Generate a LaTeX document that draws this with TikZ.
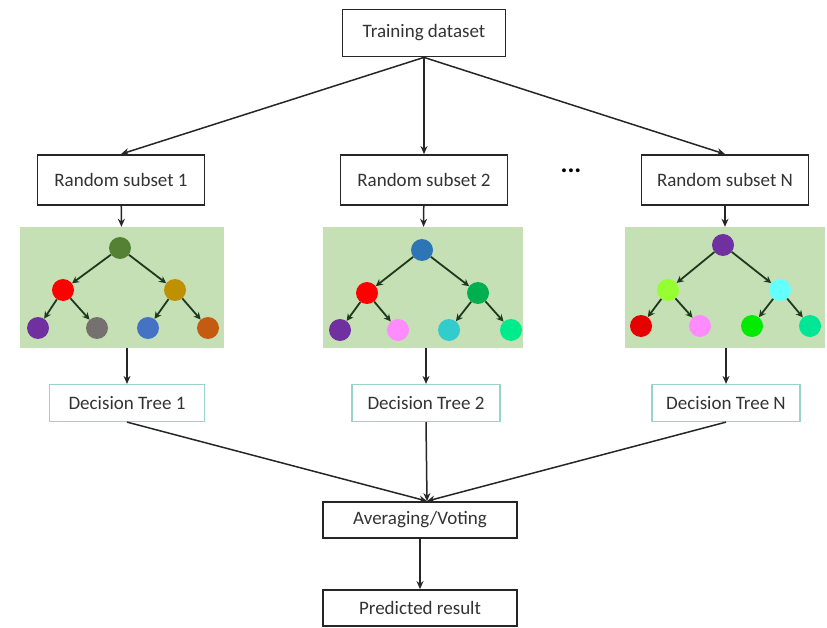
\documentclass[tikz,border=0pt]{standalone}
\usepackage{fontspec}
\setmainfont{Carlito}
\usetikzlibrary{arrows.meta}
\definecolor{panelgreen}{HTML}{C5E0B4}
\definecolor{treeline}{HTML}{1E3A1E}
\definecolor{dtborder}{HTML}{9AD4C8}
\definecolor{textgray}{HTML}{333333}
\begin{document}
\begin{tikzpicture}[x=1pt,y=-1pt,
    box/.style={draw=black!85,line width=1.8pt,fill=white,text=textgray,font=\fontsize{19}{22}\selectfont,inner sep=0pt},
    dtbox/.style={draw=dtborder,line width=1.2pt,fill=white,text=textgray,font=\fontsize{19}{22}\selectfont,inner sep=0pt,minimum height=37pt},
    panel/.style={fill=panelgreen,inner sep=0pt,minimum height=121pt},
    ball/.style={circle,inner sep=0pt,minimum size=22pt},
    flow/.style={-{Stealth[length=8pt,width=7pt]},line width=1.5pt,draw=black!85},
    branch/.style={-{Stealth[length=7pt,width=7pt]},line width=1.8pt,draw=treeline}]
    \useasboundingbox (0,0) rectangle (827,628);

    \node[box,minimum width=163pt,minimum height=47pt] (data) at (424,33) {Training dataset};
    \node[box,minimum width=167pt,minimum height=50pt] (sub1) at (121,180) {Random subset 1};
    \node[box,minimum width=167pt,minimum height=50pt] (sub2) at (424,180) {Random subset 2};
    \node[box,minimum width=167pt,minimum height=50pt] (subN) at (725,180) {Random subset N};
    \node[text=black,font=\bfseries\fontsize{26}{26}\selectfont] (dots) at (571,171) {...};

    % tree panels
    \node[panel,minimum width=204pt] (panel1) at (122,287.5) {};
    \node[panel,minimum width=200pt] (panel2) at (423,287.5) {};
    \node[panel,minimum width=200pt] (panelN) at (725,287.5) {};

    % first tree
    \node[ball,fill={rgb,255:red,84;green,130;blue,53}] (t1r) at (120,248) {};
    \node[ball,fill={rgb,255:red,255;green,0;blue,0}] (t1a) at (63,290) {};
    \node[ball,fill={rgb,255:red,191;green,144;blue,0}] (t1b) at (175,290) {};
    \node[ball,fill={rgb,255:red,112;green,48;blue,160}] (t1c) at (38,328) {};
    \node[ball,fill={rgb,255:red,118;green,113;blue,113}] (t1d) at (97,328) {};
    \node[ball,fill={rgb,255:red,68;green,114;blue,196}] (t1e) at (148,328) {};
    \node[ball,fill={rgb,255:red,197;green,90;blue,17}] (t1f) at (208,328) {};

    % second tree
    \node[ball,fill={rgb,255:red,46;green,117;blue,182}] (t2r) at (422,250) {};
    \node[ball,fill={rgb,255:red,255;green,0;blue,0}] (t2a) at (367,293) {};
    \node[ball,fill={rgb,255:red,0;green,176;blue,80}] (t2b) at (478,293) {};
    \node[ball,fill={rgb,255:red,112;green,48;blue,160}] (t2c) at (340,330) {};
    \node[ball,fill={rgb,255:red,255;green,140;blue,255}] (t2d) at (398,330) {};
    \node[ball,fill={rgb,255:red,51;green,204;blue,204}] (t2e) at (449,330) {};
    \node[ball,fill={rgb,255:red,0;green,235;blue,140}] (t2f) at (511,330) {};

    % last tree
    \node[ball,fill={rgb,255:red,112;green,48;blue,160}] (tNr) at (723,245) {};
    \node[ball,fill={rgb,255:red,150;green,255;blue,50}] (tNa) at (668,290) {};
    \node[ball,fill={rgb,255:red,100;green,255;blue,255}] (tNb) at (780,290) {};
    \node[ball,fill={rgb,255:red,230;green,0;blue,0}] (tNc) at (641,326) {};
    \node[ball,fill={rgb,255:red,255;green,140;blue,255}] (tNd) at (700,326) {};
    \node[ball,fill={rgb,255:red,0;green,235;blue,0}] (tNe) at (752,326) {};
    \node[ball,fill={rgb,255:red,0;green,230;blue,150}] (tNf) at (810,326) {};

    \node[dtbox,minimum width=155pt] (dt1) at (127,403) {Decision Tree 1};
    \node[dtbox,minimum width=148pt] (dt2) at (426,403) {Decision Tree 2};
    \node[dtbox,minimum width=148pt] (dtN) at (726,403) {Decision Tree N};
    \node[box,minimum width=194pt,minimum height=36pt] (vote) at (420,520) {Averaging/Voting};
    \node[box,minimum width=194pt,minimum height=36pt] (result) at (420,608) {Predicted result};

    \draw[flow] (data.south) to (sub1.north); \draw[flow] (data.south) to (sub2.north); \draw[flow] (data.south) to (subN.north);
    \draw[flow] (sub1) to (panel1); \draw[flow] (sub2) to (panel2); \draw[flow] (subN) to (panelN);
    \draw[flow] (panel1.south -| dt1) to (dt1); \draw[flow] (panel2.south -| dt2) to (dt2); \draw[flow] (panelN.south -| dtN) to (dtN);
    \draw[flow] (dt1.south) to ([xshift=7pt]vote.north); \draw[flow] (dt2.south) to ([xshift=7pt]vote.north); \draw[flow] (dtN.south) to ([xshift=7pt]vote.north);
    \draw[flow] (vote) to (result);

    \draw[branch] (t1r) to (t1a); \draw[branch] (t1r) to (t1b); \draw[branch] (t1a) to (t1c); \draw[branch] (t1a) to (t1d); \draw[branch] (t1b) to (t1e); \draw[branch] (t1b) to (t1f);
    \draw[branch] (t2r) to (t2a); \draw[branch] (t2r) to (t2b); \draw[branch] (t2a) to (t2c); \draw[branch] (t2a) to (t2d); \draw[branch] (t2b) to (t2e); \draw[branch] (t2b) to (t2f);
    \draw[branch] (tNr) to (tNa); \draw[branch] (tNr) to (tNb); \draw[branch] (tNa) to (tNc); \draw[branch] (tNa) to (tNd); \draw[branch] (tNb) to (tNe); \draw[branch] (tNb) to (tNf);
\end{tikzpicture}
\end{document}
